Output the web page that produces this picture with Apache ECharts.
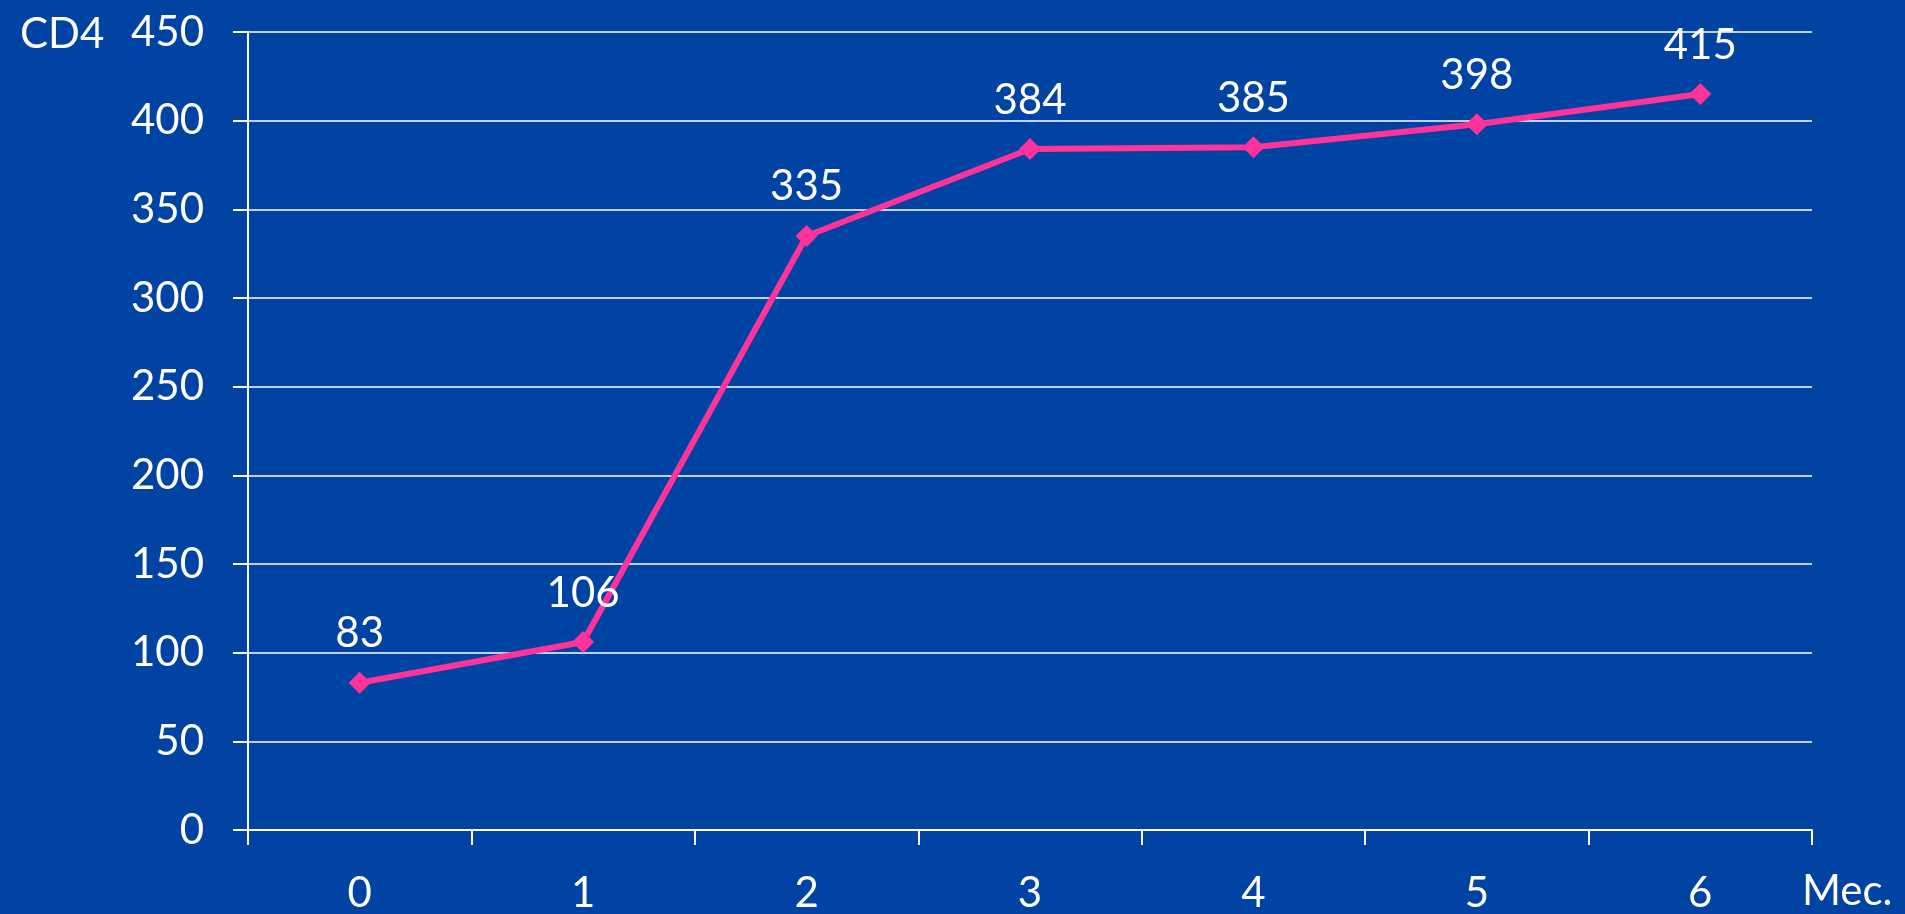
<!DOCTYPE html>
<html>
<head>
<meta charset="utf-8">
<script src="https://cdn.jsdelivr.net/npm/echarts@6/dist/echarts.min.js"></script>
<style>
  html, body { margin: 0; padding: 0; background: #0043A3; }
  #chart { width: 1905px; height: 914px; }
</style>
</head>
<body>
<div id="chart"></div>
<script>
// months since start
const months = ['0', '1', '2', '3', '4', '5', '6']
// CD4 count
const cd4 = [83, 106, 335, 384, 385, 398, 415]

const font = 'Lato'
const chart = echarts.init(document.getElementById('chart'))

chart.setOption({
  backgroundColor: '#0043A3',
  animation: false,
  title: [
    { text: 'CD4', left: 15, top: 8, textStyle: { color: '#fff', fontSize: 42, fontWeight: 'normal', fontFamily: font } },
    { text: 'Мес.', left: 1797, top: 865, textStyle: { color: '#fff', fontSize: 42, fontWeight: 'normal', fontFamily: font } },
  ],
  grid: { left: 248, right: 93, top: 32, bottom: 81 },
  xAxis: {
    type: 'category',
    data: months,
    boundaryGap: true,
    axisLine: { lineStyle: { color: '#fff', width: 2 } },
    axisTick: { show: true, length: 15, inside: false, lineStyle: { color: '#fff', width: 2 } },
    axisLabel: { color: '#fff', fontSize: 42, fontFamily: font, margin: 42 },
  },
  yAxis: {
    type: 'value',
    min: 0,
    max: 450,
    interval: 50,
    axisLine: { show: true, lineStyle: { color: '#fff', width: 2 } },
    axisTick: { show: true, length: 15, lineStyle: { color: '#fff', width: 2 } },
    axisLabel: { color: '#fff', fontSize: 42, fontFamily: font, margin: 44 },
    splitLine: { show: true, lineStyle: { color: '#fff', width: 1.5 } },
  },
  series: [
    {
      type: 'line',
      data: cd4,
      symbol: 'diamond',
      symbolSize: 22,
      lineStyle: { color: '#FF3399', width: 6 },
      itemStyle: { color: '#FF3399' },
      label: {
        show: true,
        position: 'top',
        distance: 17,
        color: '#fff',
        fontSize: 42,
        fontFamily: font,
      },
    },
  ],
})
</script>
</body>
</html>
